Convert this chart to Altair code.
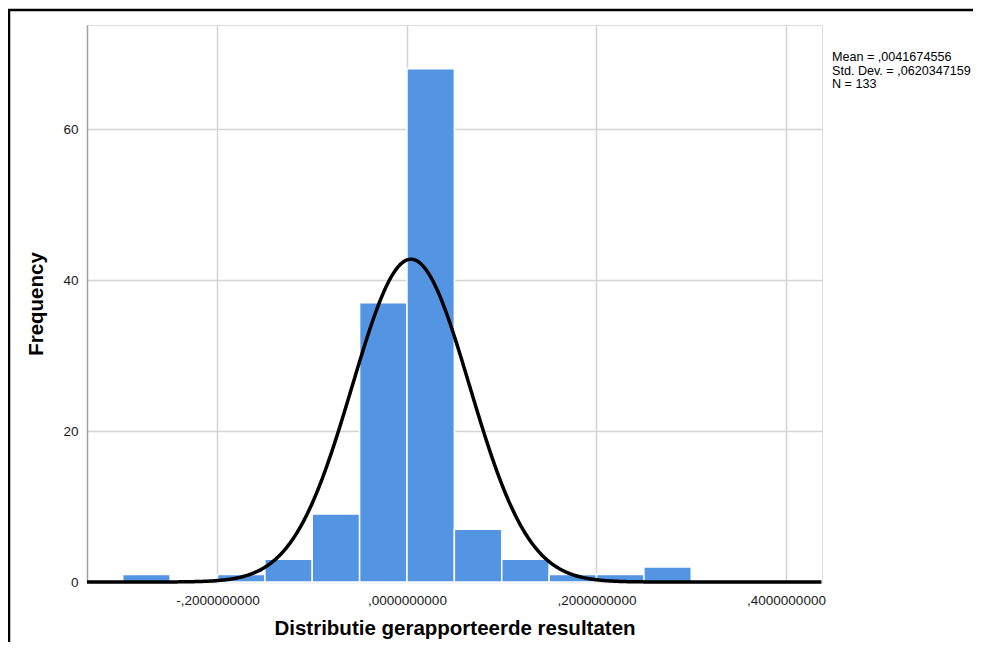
import altair as alt
import pandas as pd

# ---- data ----
bin_starts = [-0.30, -0.20, -0.15, -0.10, -0.05, 0.00, 0.05, 0.10, 0.15, 0.20, 0.25]
bin_ends = [-0.25, -0.15, -0.10, -0.05, 0.00, 0.05, 0.10, 0.15, 0.20, 0.25, 0.30]
counts = [1, 1, 3, 9, 37, 68, 7, 3, 1, 1, 2]
mean_val = 0.0041674556
sd_val = 0.0620347159
n_obs = 133
bin_width = 0.05
x_ticks = [-0.2, 0.0, 0.2, 0.4]
y_ticks = [0, 20, 40, 60]
stats_lines = ["Mean = ,0041674556", "Std. Dev. = ,0620347159", "N = 133"]
x_title = "Distributie gerapporteerde resultaten"
y_title = "Frequency"

FONT = "Liberation Sans"
BAR = "#5394e3"
GRID = "#d4d4d4"

bars_df = pd.DataFrame({"start": bin_starts, "end": bin_ends, "count": counts})

x_scale = alt.Scale(domain=[-0.3377, 0.438], nice=False, zero=False)
y_scale = alt.Scale(domain=[0, 73.8], nice=False)

label_expr = ("(datum.value < 0 ? '-' : '') + ',' + "
              "substring(format(abs(datum.value), '.10f'), 2)")

x_axis = alt.Axis(values=x_ticks, grid=True, gridColor=GRID, gridWidth=1.5,
                  ticks=False, domain=False, labelExpr=label_expr,
                  labelFont=FONT, labelFontSize=13.5, labelColor="#1a1a1a",
                  labelPadding=11, title=x_title, titleFont=FONT, titleFontSize=20.5,
                  titleFontWeight="bold", titleColor="#000000", titlePadding=12)
y_axis = alt.Axis(values=y_ticks, grid=True, gridColor=GRID, gridWidth=1.5,
                  ticks=False, domain=True, domainColor="#a0a0a0", domainWidth=1.5,
                  labelFont=FONT, labelFontSize=13.5, labelColor="#1a1a1a",
                  labelPadding=9, title=y_title, titleFont=FONT, titleFontSize=20.5,
                  titleFontWeight="bold", titleColor="#000000", titlePadding=16)

bars = alt.Chart(bars_df).mark_rect(fill=BAR, stroke="white", strokeWidth=1.5).encode(
    x=alt.X("start:Q", scale=x_scale, axis=x_axis),
    x2="end:Q",
    y=alt.Y("count:Q", scale=y_scale, axis=y_axis),
    y2=alt.datum(0),
)

curve = alt.Chart(alt.sequence(-0.3377, 0.4381, 0.001, as_="x")).transform_calculate(
    y=f"{n_obs * bin_width} / ({sd_val} * sqrt(2 * PI)) * exp(-0.5 * pow((datum.x - {mean_val}) / {sd_val}, 2))"
).mark_line(color="black", strokeWidth=3.5).encode(
    x=alt.X("x:Q", scale=x_scale),
    y=alt.Y("y:Q", scale=y_scale),
)

stats_df = pd.DataFrame({"t": ["\n".join(stats_lines)]})
stats = alt.Chart(stats_df).mark_text(
    align="left", baseline="top", font=FONT, fontSize=12.6, lineHeight=13.5,
    lineBreak="\n", color="#000000"
).encode(text="t:N", x=alt.value(745), y=alt.value(26))

frame_df = pd.DataFrame({"k": [0]})
frame_left = alt.Chart(frame_df).mark_rule(color="black", strokeWidth=2.5).encode(
    x=alt.value(-78), y=alt.value(-16), y2=alt.value(700))
frame_top = alt.Chart(frame_df).mark_rule(color="black", strokeWidth=2.5).encode(
    y=alt.value(-15), x=alt.value(-80), x2=alt.value(950))

chart = alt.layer(bars, curve, stats, frame_left, frame_top).properties(
    width=735, height=557,
    autosize=alt.AutoSizeParams(type="none"),
    padding={"left": 79, "top": 17, "right": 151, "bottom": 60},
).configure_view(stroke=None).configure(background="white")

chart.save("out.html", embed_options={"renderer": "svg", "actions": False})
